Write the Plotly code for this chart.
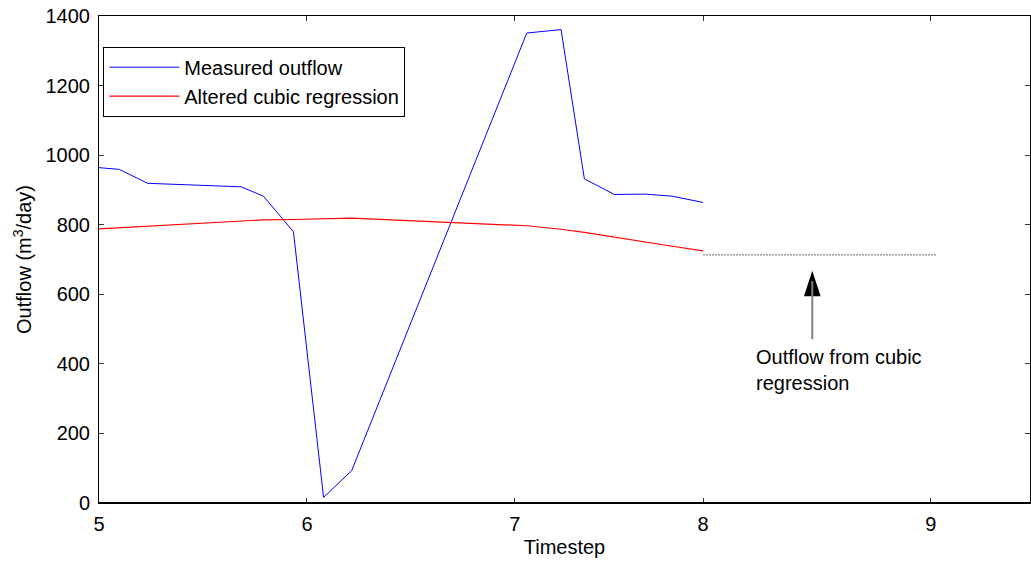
import plotly.graph_objects as go

# ---- data ----
timestep = [5.0, 5.098, 5.234, 5.683, 5.791, 5.935, 6.080, 6.215,
            7.057, 7.222, 7.334, 7.478, 7.627, 7.757, 7.905]
measured_outflow = [964, 959, 919, 909, 882, 780, 16, 93,
                    1351, 1361, 932, 887, 888, 882, 864]
altered_cubic = [788, 791, 797, 810, 814, 815, 818, 819,
                 797, 787, 778, 764, 750, 738, 725]

forecast_x = [7.905, 9.025]
forecast_y = [714, 714]

tick_positions = [5, 6, 7, 7.905, 9]
tick_labels = ["5", "6", "7", "8", "9"]
y_ticks = [0, 200, 400, 600, 800, 1000, 1200, 1400]

arrow_x = [8.43]
arrow_tail_y = 471
arrow_head_y = [668]
note_x = 8.150
note_y = 456
note_text = "Outflow from cubic<br>regression"

FONT = "Liberation Sans, Arial, Helvetica, sans-serif"

fig = go.Figure()
fig.add_trace(go.Scatter(x=timestep, y=measured_outflow, mode="lines",
                         name="Measured outflow",
                         line=dict(color="#0000ff", width=1)))
fig.add_trace(go.Scatter(x=timestep, y=altered_cubic, mode="lines",
                         name="Altered cubic regression",
                         line=dict(color="#ff0000", width=1.2)))
fig.add_trace(go.Scatter(x=forecast_x, y=forecast_y, mode="lines",
                         showlegend=False, hoverinfo="skip",
                         line=dict(color="#acacac", width=2, dash="2px,1px")))

# arrow shaft (gray)
fig.add_shape(type="line", xref="x", yref="y",
              x0=arrow_x[0], x1=arrow_x[0], y0=arrow_tail_y, y1=arrow_head_y[0] - 30,
              line=dict(color="#808080", width=2))
# arrow head (black)
fig.add_trace(go.Scatter(x=arrow_x, y=arrow_head_y, mode="markers",
                         showlegend=False, hoverinfo="skip",
                         marker=dict(symbol="arrow", angle=0, size=27,
                                     color="black", line=dict(width=0))))
fig.add_annotation(x=note_x, y=note_y, xref="x", yref="y",
                   xanchor="left", yanchor="top", align="left",
                   showarrow=False, text=note_text,
                   font=dict(family=FONT, size=20, color="black"))

# thicker bottom axis line
fig.add_shape(type="line", xref="paper", yref="paper", x0=0, x1=1, y0=0, y1=0,
              line=dict(color="black", width=2))

fig.update_layout(
    width=1031, height=561,
    margin=dict(l=99, r=1, t=16, b=58),
    paper_bgcolor="white", plot_bgcolor="white",
    font=dict(family=FONT, size=20, color="black"),
    showlegend=True,
    legend=dict(x=0.0046, y=0.937, xanchor="left", yanchor="top",
                bgcolor="white", bordercolor="black", borderwidth=1,
                font=dict(family=FONT, size=20, color="black"),
                itemwidth=70, entrywidth=300, entrywidthmode="pixels"),
)
fig.update_xaxes(range=[5, 9.477], tickmode="array", tickvals=tick_positions,
                 ticktext=tick_labels, showgrid=False, zeroline=False,
                 showline=True, linecolor="black", linewidth=1, mirror="ticks",
                 ticks="inside", ticklen=5, tickcolor="#333333",
                 tickfont=dict(size=20), ticklabelstandoff=3,
                 title=dict(text="Timestep", standoff=5, font=dict(size=20)))
fig.update_yaxes(range=[0, 1400], tickmode="array", tickvals=y_ticks,
                 showgrid=False, zeroline=False,
                 showline=True, linecolor="black", linewidth=1, mirror="ticks",
                 ticks="inside", ticklen=5, tickcolor="#333333",
                 tickfont=dict(size=20), ticklabelstandoff=4,
                 title=dict(text="Outflow (m<sup>3</sup>/day)", standoff=8,
                            font=dict(size=20)))

fig.write_html("out.html")
